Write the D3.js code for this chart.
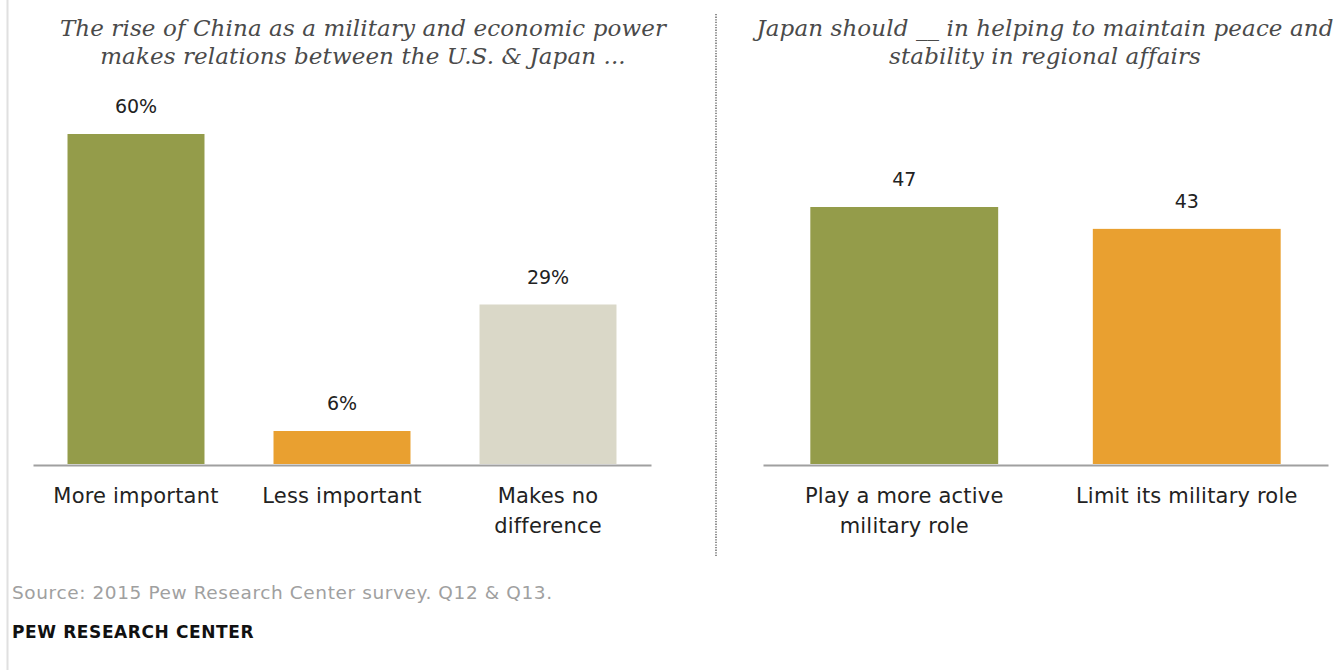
<!DOCTYPE html>
<html>
<head>
<meta charset="utf-8">
<script src="https://cdn.jsdelivr.net/npm/d3@7"></script>
<style>
  html, body { margin: 0; padding: 0; background: #fff; }
  svg { display: block; }
  .title { font-family: "DejaVu Serif", serif; font-style: italic; fill: #4a4a4a; }
  .lbl { font-family: "DejaVu Sans", sans-serif; fill: #222; }
</style>
</head>
<body>
<svg id="chart" width="1343" height="670"></svg>
<script>
// Survey results: U.S.–Japan relations and Japan's regional role
const leftTitle = ["The rise of China as a military and economic power",
                   "makes relations between the U.S. & Japan ..."];
const leftCategories = [["More important"], ["Less important"], ["Makes no", "difference"]];
const leftValues = [60, 6, 29];
const leftLabels = ["60%", "6%", "29%"];
const leftColors = ["#949c4a", "#e9a030", "#dad8c8"];

const rightTitle = ["Japan should __ in helping to maintain peace and",
                    "stability in regional affairs"];
const rightCategories = [["Play a more active", "military role"], ["Limit its military role"]];
const rightValues = [47, 43];
const rightLabels = ["47", "43"];
const rightColors = ["#949c4a", "#e9a030"];

const sourceText = "Source: 2015 Pew Research Center survey. Q12 & Q13.";
const creditText = "PEW RESEARCH CENTER";

const svg = d3.select("#chart");
const baseY = 464;

// thin rule along the left edge
svg.append("line").attr("x1", 7.5).attr("x2", 7.5).attr("y1", 0).attr("y2", 670)
  .attr("stroke", "#e0e0e0").attr("stroke-width", 2);

// dotted divider between the two panels
svg.append("line").attr("x1", 716).attr("x2", 716).attr("y1", 14).attr("y2", 557)
  .attr("stroke", "#555").attr("stroke-width", 1.3).attr("stroke-dasharray", "1.3,1.3");

function panel(opts) {
  const { titleLines, titleX, cats, values, labels, colors, x0, x1, yMax, yTop } = opts;
  const keys = cats.map(c => c.join(" "));
  const x = d3.scaleBand().domain(keys).range([x0, x1]).paddingInner(0.335).paddingOuter(0.1675);
  const y = d3.scaleLinear().domain([0, yMax]).range([baseY, yTop]);
  const g = svg.append("g");

  g.append("text").attr("class", "title").attr("text-anchor", "middle")
    .attr("font-size", 23).attr("letter-spacing", 0.1)
    .selectAll("tspan").data(titleLines).join("tspan")
    .attr("x", titleX).attr("y", (d, i) => 36 + i * 28).text(d => d);

  g.selectAll("rect").data(values).join("rect")
    .attr("x", (d, i) => x(keys[i]))
    .attr("width", x.bandwidth())
    .attr("y", d => y(d))
    .attr("height", d => y(0) - y(d))
    .attr("fill", (d, i) => colors[i]);

  g.selectAll("text.val").data(values).join("text")
    .attr("class", "lbl val").attr("text-anchor", "middle").attr("font-size", 19)
    .attr("x", (d, i) => x(keys[i]) + x.bandwidth() / 2)
    .attr("y", d => y(d) - 21)
    .text((d, i) => labels[i]);

  // baseline axis
  const axis = d3.axisBottom(x).tickSize(0).tickFormat("");
  const ax = g.append("g").attr("transform", `translate(0,${baseY + 1})`).call(axis);
  ax.select(".domain").attr("stroke", "#a0a0a0").attr("stroke-width", 2);

  cats.forEach((lines, i) => {
    const t = g.append("text").attr("class", "lbl").attr("text-anchor", "middle")
      .attr("font-size", 21).attr("letter-spacing", 0.2);
    lines.forEach((ln, j) => {
      t.append("tspan").attr("x", x(keys[i]) + x.bandwidth() / 2)
        .attr("y", 503 + j * 30).text(ln);
    });
  });
}

panel({ titleLines: leftTitle, titleX: 363, cats: leftCategories, values: leftValues,
        labels: leftLabels, colors: leftColors, x0: 33, x1: 651, yMax: 60, yTop: 134 });
panel({ titleLines: rightTitle, titleX: 1045, cats: rightCategories, values: rightValues,
        labels: rightLabels, colors: rightColors, x0: 763, x1: 1328, yMax: 47, yTop: 207 });

svg.append("text").attr("x", 12).attr("y", 599)
  .attr("font-family", "DejaVu Sans, sans-serif").attr("font-size", 18.5)
  .attr("letter-spacing", 0.6).attr("fill", "#a0a0a0")
  .text(sourceText);
svg.append("text").attr("x", 12).attr("y", 638)
  .attr("font-family", "DejaVu Sans, sans-serif").attr("font-size", 17).attr("font-weight", "bold")
  .attr("letter-spacing", 0.6).attr("fill", "#111").text(creditText);
</script>
</body>
</html>
